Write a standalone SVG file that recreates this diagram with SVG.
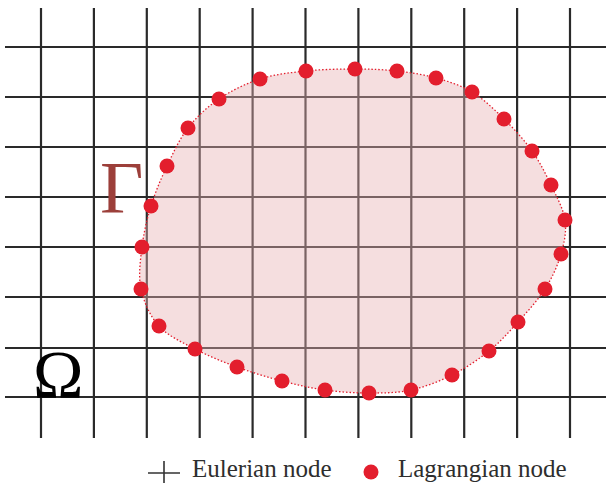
<svg xmlns="http://www.w3.org/2000/svg" width="606" height="483" viewBox="0 0 606 483">
<style>
.g{stroke:#2a2a2a;stroke-width:2.2;fill:none}
.dot{fill:#e31e2d}
.lbl{font-family:"Liberation Serif","Times New Roman",serif;font-size:25px;fill:#2e2e2e}
</style>
<rect width="606" height="483" fill="#ffffff"/>
<g id="grid" class="g">
<path d="M41,8V438M93.9,8V438M146.8,8V438M199.7,8V438M252.6,8V438M305.5,8V438M358.4,8V438M411.3,8V438M464.2,8V438M517.1,8V438M570,8V438"/>
<path d="M5,47H606M5,97H606M5,147H606M5,197H606M5,247H606M5,297H606M5,348H606M5,397H606"/>
</g>
<g id="body">
<path id="gamma-shape" d="M151,206 C155.2,192.5 160.8,179 167,166 C173.2,153 179.3,139.2 188,128 C196.7,116.8 207,107.2 219,99 C231,90.8 245.5,83.7 260,79 C274.5,74.3 290.2,72.7 306,71 C321.8,69.3 339.8,69 355,69 C370.2,69 383.5,69.5 397,71 C410.5,72.5 423.5,74.5 436,78 C448.5,81.5 460.7,85.2 472,92 C483.3,98.8 494,109.2 504,119 C514,128.8 524.2,140 532,151 C539.8,162 545.5,173.5 551,185 C556.5,196.5 563.3,208.5 565,220 C566.7,231.5 564.3,242.5 561,254 C557.7,265.5 552.2,277.7 545,289 C537.8,300.3 527.3,311.7 518,322 C508.7,332.3 500,342.2 489,351 C478,359.8 465,368.5 452,375 C439,381.5 424.8,387 411,390 C397.2,393 383.3,393 369,393 C354.7,393 339.5,392 325,390 C310.5,388 296.7,384.8 282,381 C267.3,377.2 251.5,372.3 237,367 C222.5,361.7 208,355.8 195,349 C182,342.2 168,336 159,326 C150,316 143.8,302.2 141,289 C138.2,275.8 140.3,260.8 142,247 C143.7,233.2 146.8,219.5 151,206 Z" fill="#e8b0b2" fill-opacity="0.42" stroke="#e31e2d" stroke-width="1.3" stroke-dasharray="1.5 2"/>
</g>
<g id="lagrangian-nodes" class="dot">
<circle cx="151" cy="206" r="7.5"/><circle cx="167" cy="166" r="7.5"/><circle cx="188" cy="128" r="7.5"/><circle cx="219" cy="99" r="7.5"/><circle cx="260" cy="79" r="7.5"/><circle cx="306" cy="71" r="7.5"/><circle cx="355" cy="69" r="7.5"/><circle cx="397" cy="71" r="7.5"/><circle cx="436" cy="78" r="7.5"/><circle cx="472" cy="92" r="7.5"/><circle cx="504" cy="119" r="7.5"/><circle cx="532" cy="151" r="7.5"/><circle cx="551" cy="185" r="7.5"/><circle cx="565" cy="220" r="7.5"/><circle cx="561" cy="254" r="7.5"/><circle cx="545" cy="289" r="7.5"/><circle cx="518" cy="322" r="7.5"/><circle cx="489" cy="351" r="7.5"/><circle cx="452" cy="375" r="7.5"/><circle cx="411" cy="390" r="7.5"/><circle cx="369" cy="393" r="7.5"/><circle cx="325" cy="390" r="7.5"/><circle cx="282" cy="381" r="7.5"/><circle cx="237" cy="367" r="7.5"/><circle cx="195" cy="349" r="7.5"/><circle cx="159" cy="326" r="7.5"/><circle cx="141" cy="289" r="7.5"/><circle cx="142" cy="247" r="7.5"/>
</g>
<g id="labels">
<text x="100" y="213" font-family="'Liberation Serif','Times New Roman',serif" font-size="75" fill="#9c3f3a">Γ</text>
<text x="33" y="397" font-family="'Liberation Serif','Times New Roman',serif" font-size="68" fill="#000000">Ω</text>
</g>
<g id="legend">
<path d="M148,473H180M164,461V483" stroke="#333333" stroke-width="1.6" fill="none"/>
<text class="lbl" x="192" y="477">Eulerian node</text>
<circle class="dot" cx="371" cy="472" r="7.5"/>
<text class="lbl" x="398" y="477">Lagrangian node</text>
</g>
</svg>
